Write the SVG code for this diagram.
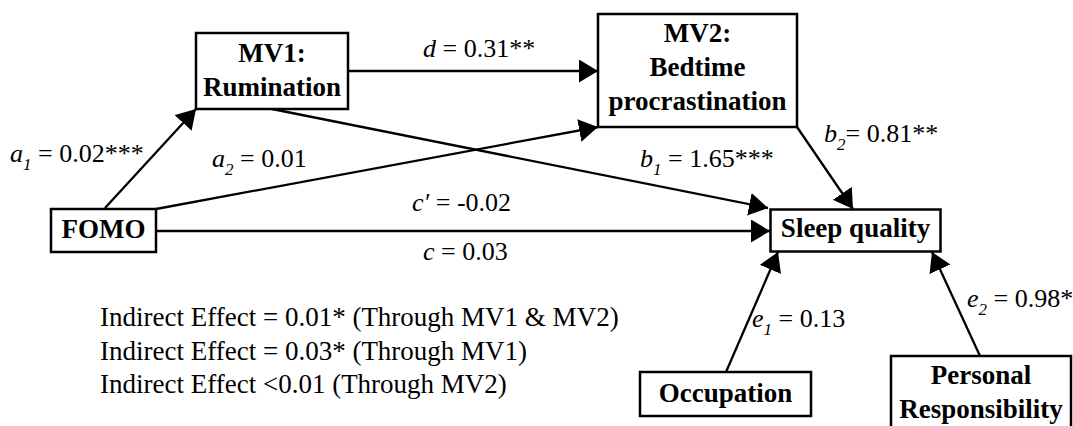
<svg xmlns="http://www.w3.org/2000/svg" width="1073" height="426" viewBox="0 0 1073 426">
<style>
.box{fill:#fff;stroke:#000;stroke-width:2.5}
.nt{font-family:'Liberation Serif','Times New Roman',Times,'DejaVu Serif',serif;font-weight:bold;font-size:27px;text-anchor:middle;fill:#000}
.lb{font-family:'Liberation Serif','Times New Roman',Times,'DejaVu Serif',serif;font-size:26px;fill:#000}
.it{font-style:italic}
.sub{font-style:italic;font-size:17px}
.ind{font-family:'Liberation Serif','Times New Roman',Times,'DejaVu Serif',serif;font-size:27px;fill:#000}
.con line{stroke:#000;stroke-width:2.3;marker-end:url(#ah)}
</style>
<defs>
<marker id="ah" markerUnits="userSpaceOnUse" markerWidth="20" markerHeight="24" refX="19" refY="11.5" orient="auto">
<path d="M0,0 L19,11.5 L0,23 z" fill="#000"/>
</marker>
</defs>
<rect width="1073" height="426" fill="#fff"/>
<g id="connectors" class="con">
<line x1="105" y1="208" x2="196" y2="109"/>
<line x1="156" y1="209" x2="598" y2="127"/>
<line x1="348" y1="71" x2="598" y2="71"/>
<line x1="272" y1="109" x2="768" y2="208"/>
<line x1="797" y1="127" x2="853" y2="209"/>
<line x1="156" y1="231" x2="770" y2="231"/>
<line x1="726" y1="372" x2="778" y2="252"/>
<line x1="980" y1="356" x2="932" y2="252"/>
</g>
<g id="labels">
<text class="lb" x="10" y="162"><tspan class="it">a</tspan><tspan class="sub" dy="8">1</tspan><tspan dy="-8"> = 0.02***</tspan></text>
<text class="lb" x="212" y="167"><tspan class="it">a</tspan><tspan class="sub" dy="8">2</tspan><tspan dy="-8"> = 0.01</tspan></text>
<text class="lb" x="423" y="57"><tspan class="it">d</tspan> = 0.31**</text>
<text class="lb" x="412" y="211"><tspan class="it">c′</tspan> = -0.02</text>
<text class="lb" x="423" y="260"><tspan class="it">c</tspan> = 0.03</text>
<text class="lb" x="640" y="167"><tspan class="it">b</tspan><tspan class="sub" dy="8">1</tspan><tspan dy="-8"> = 1.65***</tspan></text>
<text class="lb" x="824" y="142"><tspan class="it">b</tspan><tspan class="sub" dy="8">2</tspan><tspan dy="-8">= 0.81**</tspan></text>
<text class="lb" x="752" y="327"><tspan class="it">e</tspan><tspan class="sub" dy="8">1</tspan><tspan dy="-8"> = 0.13</tspan></text>
<text class="lb" x="967" y="307"><tspan class="it">e</tspan><tspan class="sub" dy="8">2</tspan><tspan dy="-8"> = 0.98*</tspan></text>
<text class="ind" x="100" y="326">Indirect Effect = 0.01* (Through MV1 &amp; MV2)</text>
<text class="ind" x="100" y="360">Indirect Effect = 0.03* (Through MV1)</text>
<text class="ind" x="100" y="393">Indirect Effect &lt;0.01 (Through MV2)</text>
</g>
<g id="mv1"><rect class="box" x="196" y="33" width="152" height="76"/><text class="nt" x="272" y="62">MV1:</text><text class="nt" x="272" y="96">Rumination</text></g>
<g id="mv2"><rect class="box" x="598" y="14" width="199" height="113"/><text class="nt" x="697.5" y="42">MV2:</text><text class="nt" x="697.5" y="76">Bedtime</text><text class="nt" x="697.5" y="110">procrastination</text></g>
<g id="fomo"><rect class="box" x="51" y="209" width="105" height="43"/><text class="nt" x="103.5" y="238">FOMO</text></g>
<g id="sleep"><rect class="box" x="770.5" y="209.5" width="170" height="42"/><text class="nt" x="855.5" y="237">Sleep quality</text></g>
<g id="occupation"><rect class="box" x="640" y="372" width="171" height="44"/><text class="nt" x="725.5" y="402">Occupation</text></g>
<g id="personal"><rect class="box" x="891" y="356" width="180" height="76"/><text class="nt" x="981" y="384">Personal</text><text class="nt" x="981" y="418">Responsibility</text></g>
</svg>
